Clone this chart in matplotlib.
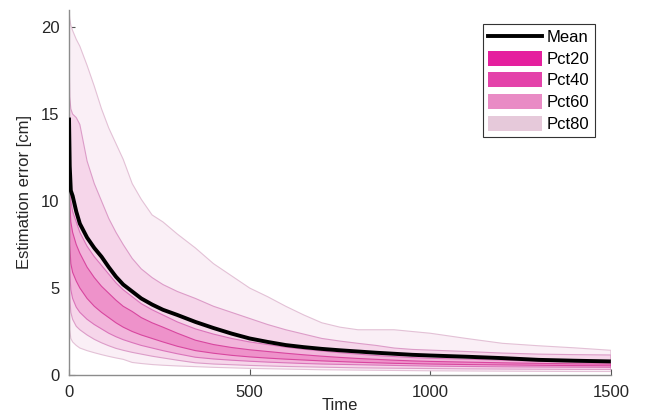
import matplotlib
matplotlib.use("Agg")
import matplotlib.pyplot as plt
from matplotlib.patches import Patch
from matplotlib.lines import Line2D

plt.rcParams['font.family'] = ['Liberation Sans', 'DejaVu Sans']

time = [0, 2, 5, 10, 20, 30, 50, 70, 90, 110, 130, 150, 175, 200, 230, 260, 300, 350,
        400, 450, 500, 550, 600, 650, 700, 750, 800, 850, 900, 950, 1000, 1100, 1200,
        1300, 1400, 1500]

p90 = [21.0, 20.5, 20.1, 19.8, 19.3, 18.9, 17.8, 16.6, 15.3, 14.2, 13.3, 12.4, 11.0, 10.1,
       9.2, 8.8, 8.1, 7.3, 6.4, 5.7, 5.0, 4.5, 3.95, 3.45, 3.0, 2.75, 2.6, 2.6, 2.6, 2.5,
       2.4, 2.1, 1.82, 1.68, 1.56, 1.42]
p80 = [19.0, 16.0, 15.3, 15.0, 14.8, 14.4, 12.3, 11.0, 10.0, 9.0, 8.2, 7.5, 6.7, 6.1,
       5.6, 5.2, 4.8, 4.4, 3.95, 3.6, 3.25, 2.9, 2.6, 2.35, 2.1, 1.95, 1.82, 1.7, 1.55,
       1.47, 1.43, 1.35, 1.26, 1.2, 1.17, 1.15]
p70 = [17.0, 12.5, 10.0, 9.4, 8.8, 8.2, 7.4, 6.8, 6.3, 5.8, 5.3, 4.9, 4.5, 4.1, 3.75,
       3.45, 3.05, 2.65, 2.35, 2.1, 1.9, 1.75, 1.6, 1.48, 1.38, 1.28, 1.2, 1.12, 1.06,
       1.0, 0.96, 0.91, 0.85, 0.79, 0.75, 0.73]
p60 = [15.0, 10.0, 8.8, 8.2, 7.5, 7.0, 6.2, 5.6, 5.1, 4.7, 4.3, 3.95, 3.65, 3.3, 3.0,
       2.75, 2.4, 2.0, 1.75, 1.58, 1.45, 1.35, 1.25, 1.16, 1.08, 1.01, 0.95, 0.9, 0.85,
       0.81, 0.78, 0.74, 0.7, 0.67, 0.64, 0.63]
p40 = [13.0, 7.5, 6.4, 5.9, 5.4, 5.0, 4.4, 3.95, 3.6, 3.3, 3.0, 2.75, 2.5, 2.3, 2.1,
       1.9, 1.65, 1.4, 1.25, 1.13, 1.04, 0.97, 0.91, 0.86, 0.81, 0.77, 0.73, 0.7, 0.67,
       0.65, 0.63, 0.6, 0.58, 0.56, 0.54, 0.53]
p30 = [11.0, 6.0, 4.9, 4.4, 3.9, 3.6, 3.2, 2.9, 2.65, 2.4, 2.2, 2.03, 1.86, 1.7, 1.55,
       1.4, 1.22, 1.02, 0.92, 0.85, 0.79, 0.74, 0.7, 0.66, 0.63, 0.61, 0.59, 0.57, 0.55,
       0.53, 0.51, 0.49, 0.47, 0.46, 0.45, 0.44]
p20 = [8.0, 4.5, 3.6, 3.2, 2.8, 2.6, 2.3, 2.05, 1.85, 1.68, 1.53, 1.42, 1.3, 1.2, 1.08,
       0.98, 0.85, 0.7, 0.63, 0.59, 0.55, 0.52, 0.49, 0.47, 0.45, 0.43, 0.41, 0.4, 0.39,
       0.38, 0.37, 0.35, 0.34, 0.33, 0.32, 0.32]
p10 = [5.0, 2.6, 2.1, 1.9, 1.7, 1.55, 1.4, 1.28, 1.17, 1.07, 0.98, 0.9, 0.72, 0.66, 0.6,
       0.56, 0.52, 0.48, 0.44, 0.41, 0.38, 0.36, 0.34, 0.32, 0.3, 0.29, 0.28, 0.27, 0.26,
       0.25, 0.24, 0.23, 0.22, 0.21, 0.2, 0.2]
mean_err = [14.8, 12.0, 10.6, 10.3, 9.4, 8.7, 7.9, 7.3, 6.8, 6.2, 5.65, 5.2, 4.8, 4.4,
            4.05, 3.75, 3.45, 3.05, 2.7, 2.38, 2.1, 1.9, 1.72, 1.6, 1.5, 1.42, 1.35, 1.28,
            1.22, 1.16, 1.12, 1.05, 0.97, 0.87, 0.82, 0.78]

band_labels = ['Pct20', 'Pct40', 'Pct60', 'Pct80']

fig = plt.figure(figsize=(6.45, 4.16), dpi=100)
ax = fig.add_axes([0.107, 0.0986, 0.840, 0.878])

bands = [
    (p10, p90, '#FAEFF6', '#E3C1D6'),
    (p20, p80, '#F6D6EA', '#DC9CC8'),
    (p30, p70, '#F2B5DB', '#DA74BA'),
    (p40, p60, '#EE92CA', '#D8469F'),
]
for lo, hi, fc, ec in bands:
    xs = list(time) + list(time[::-1])
    ys = list(hi) + list(lo[::-1])
    ax.fill(xs, ys, facecolor=fc, edgecolor=ec, linewidth=0.8, zorder=2)

ax.plot(time, mean_err, color='black', linewidth=2.8, zorder=5,
        solid_capstyle='butt')

ax.set_xlim(0, 1500)
ax.set_ylim(0, 21)
ax.set_xticks([0, 500, 1000, 1500])
ax.set_yticks([0, 5, 10, 15, 20])
for s in ['top', 'right']:
    ax.spines[s].set_visible(False)
for s in ['left', 'bottom']:
    ax.spines[s].set_color('#8c8c8c')
    ax.spines[s].set_linewidth(1.0)
ax.tick_params(direction='in', length=4, width=0.8, color='#555555',
               labelsize=12, labelcolor='#262626', pad=7)
ax.set_xlabel('Time', fontsize=12, color='#262626', labelpad=-1)
ax.set_ylabel('Estimation error [cm]', fontsize=12, color='#262626', labelpad=6)

handles = [Line2D([0], [0], color='black', linewidth=2.8),
           Patch(facecolor='#E51F9E', edgecolor='none'),
           Patch(facecolor='#E443AA', edgecolor='none'),
           Patch(facecolor='#E98BC5', edgecolor='none'),
           Patch(facecolor='#E6C9DA', edgecolor='none')]
leg = ax.legend(handles, ['Mean'] + band_labels, loc='upper right',
                bbox_to_anchor=(0.970, 0.961), borderaxespad=0, fontsize=12,
                fancybox=False, framealpha=1, edgecolor='#333333',
                handlelength=3.2, handleheight=1.0, labelspacing=0.33,
                handletextpad=0.3, borderpad=0.3)
leg.get_frame().set_linewidth(0.8)
leg.set_zorder(10)

fig.savefig('out.png', dpi=100)
